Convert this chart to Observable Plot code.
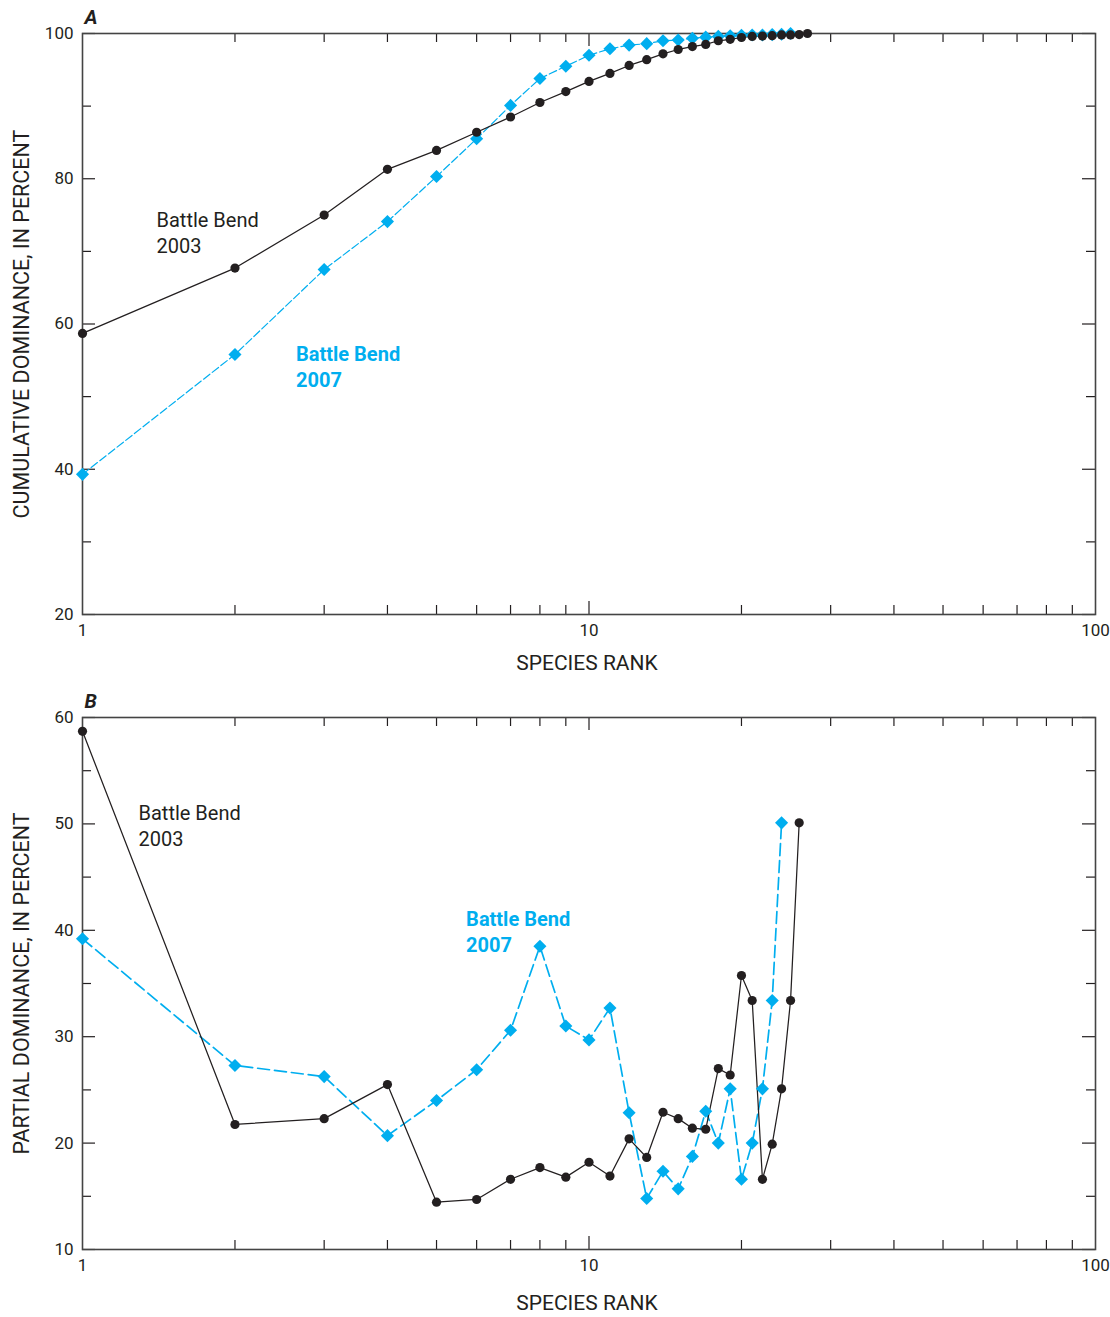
<!DOCTYPE html>
<html>
<head>
<meta charset="utf-8">
<script src="https://cdn.jsdelivr.net/npm/d3@7"></script>
<script src="https://cdn.jsdelivr.net/npm/@observablehq/plot@0.6"></script>
<style>
  html, body { margin: 0; padding: 0; background: #fff; }
  #chart { width: 1110px; height: 1317px; position: relative; }
  #chart svg { display: block; }
</style>
</head>
<body>
<div id="chart"></div>
<script>
// ---------- DATA ----------
const ranks2003 = [1,2,3,4,5,6,7,8,9,10,11,12,13,14,15,16,17,18,19,20,21,22,23,24,25,26,27];
const ranks2007 = [1,2,3,4,5,6,7,8,9,10,11,12,13,14,15,16,17,18,19,20,21,22,23,24,25];

const cumulative2003 = [58.7, 67.7, 75.0, 81.3, 83.9, 86.4, 88.5, 90.5, 92.0, 93.4, 94.5, 95.6, 96.4, 97.2, 97.8, 98.2, 98.5, 99.0, 99.2, 99.45, 99.6, 99.65, 99.7, 99.8, 99.8, 99.85, 100];
const cumulative2007 = [39.3, 55.8, 67.5, 74.1, 80.3, 85.5, 90.1, 93.8, 95.5, 97.0, 97.9, 98.4, 98.6, 99.0, 99.1, 99.35, 99.5, 99.6, 99.7, 99.75, 99.8, 99.8, 99.85, 99.9, 100];

const partial2003 = [58.7, 21.75, 22.3, 25.5, 14.45, 14.7, 16.6, 17.7, 16.8, 18.2, 16.9, 20.4, 18.65, 22.9, 22.3, 21.4, 21.3, 27.0, 26.4, 35.75, 33.4, 16.6, 19.9, 25.1, 33.4, 50.1];
const partial2007 = [39.2, 27.3, 26.25, 20.7, 24.0, 26.9, 30.6, 38.5, 31.0, 29.7, 32.7, 22.85, 14.8, 17.35, 15.7, 18.75, 23.0, 20.0, 25.1, 16.6, 20.0, 25.1, 33.4, 50.1];

const xLabelTicks = [1, 10, 100];
const xMinorTicks = [2,3,4,5,6,7,8,9,20,30,40,50,60,70,80,90];
const xMajorTicks = [10];

const yLabelsA = [20, 40, 60, 80, 100];
const yMinorA = [30, 50, 70, 90];
const yLabelsB = [10, 20, 30, 40, 50, 60];
const yMinorB = [15, 25, 35, 45, 55];

const label2003 = "Battle Bend\n2003";
const label2007 = "Battle Bend\n2007";
// annotation anchor points (species rank, percent)
const annot2003A = [{x: 1.40, y: 72.7}];
const annot2007A = [{x: 2.64, y: 54.3}];
const annot2003B = [{x: 1.29, y: 49.9}];
const annot2007B = [{x: 5.72, y: 40.0}];

// ---------- STYLE ----------
const FONT = "Roboto, 'Liberation Sans', Arial, sans-serif";
const BLACK = "#231f20";
const BLUE = "#00aeef";
const FRAME = "#444";

function toRows(ranks, vals) { return vals.map((v, i) => ({rank: ranks[i], v})); }

function panel({height, marginTop, marginBottom, yDomain, yLabels, yMinor, s2003, s2007, a2003, a2007, yLabel, letter, dash, xTitleDy}) {
  const marginLeft = 82, marginRight = 15, width = 1110;
  const innerW = width - marginLeft - marginRight;
  const innerH = height - marginTop - marginBottom;
  const minorLen = 9, majorLen = 13;
  return Plot.plot({
    width, height, marginTop, marginBottom, marginLeft, marginRight,
    style: {fontFamily: FONT, fontSize: "17px", color: BLACK, background: "white"},
    x: {type: "log", domain: [1, 100]},
    y: {domain: yDomain},
    marks: [
      // tick labels
      Plot.axisX(xLabelTicks, {anchor: "bottom", tickSize: 0, tickPadding: 9, tickFormat: d => String(d), fontSize: 17, label: null}),
      Plot.axisY(yLabels, {anchor: "left", tickSize: 0, tickPadding: 9, tickFormat: d => String(d), fontSize: 17, label: null}),
      // axis titles
      Plot.text(["SPECIES RANK"], {frameAnchor: "bottom", dy: xTitleDy, dx: -2, lineAnchor: "middle", fontSize: 21, fill: BLACK}),
      Plot.text([yLabel], {frameAnchor: "left", dx: -60, rotate: -90, textAnchor: "middle", lineAnchor: "middle", fontSize: 21.5, fill: BLACK}),
      // inward ticks: bottom/top
      Plot.tickX(xMinorTicks, {x: d => d, stroke: BLACK, strokeWidth: 1.2, insetTop: innerH - minorLen}),
      Plot.tickX(xMinorTicks, {x: d => d, stroke: BLACK, strokeWidth: 1.2, insetBottom: innerH - minorLen}),
      Plot.tickX(xMajorTicks, {x: d => d, stroke: BLACK, strokeWidth: 1.2, insetTop: innerH - majorLen}),
      Plot.tickX(xMajorTicks, {x: d => d, stroke: BLACK, strokeWidth: 1.2, insetBottom: innerH - majorLen}),
      // inward ticks: left/right
      Plot.tickY(yMinor, {y: d => d, stroke: BLACK, strokeWidth: 1.2, insetRight: innerW - minorLen}),
      Plot.tickY(yMinor, {y: d => d, stroke: BLACK, strokeWidth: 1.2, insetLeft: innerW - minorLen}),
      Plot.tickY(yLabels, {y: d => d, stroke: BLACK, strokeWidth: 1.2, insetRight: innerW - majorLen}),
      Plot.tickY(yLabels, {y: d => d, stroke: BLACK, strokeWidth: 1.2, insetLeft: innerW - majorLen}),
      Plot.frame({stroke: FRAME, strokeWidth: 1.6}),
      // series
      Plot.line(s2007, {x: "rank", y: "v", stroke: BLUE, strokeWidth: dash.w, strokeDasharray: dash.d}),
      Plot.line(s2003, {x: "rank", y: "v", stroke: BLACK, strokeWidth: 1.25}),
      Plot.dot(s2007, {x: "rank", y: "v", symbol: "diamond2", r: 5.9, fill: BLUE, stroke: "none"}),
      Plot.dot(s2003, {x: "rank", y: "v", symbol: "circle", r: 4.6, fill: BLACK, stroke: "none"}),
      // annotations
      Plot.text(a2003, {x: "x", y: "y", text: () => label2003, textAnchor: "start", lineAnchor: "middle", lineHeight: 1.3, fontSize: 20, fill: BLACK}),
      Plot.text(a2007, {x: "x", y: "y", text: () => label2007, textAnchor: "start", lineAnchor: "middle", lineHeight: 1.3, fontSize: 20, fontWeight: "bold", fill: BLUE}),
      // panel letter
      Plot.text([letter], {frameAnchor: "top-left", dx: 2, dy: -16, lineAnchor: "middle", fontSize: 20, fontWeight: "bold", fontStyle: "italic", textAnchor: "start", fill: BLACK})
    ]
  });
}

const chart = document.getElementById("chart");

chart.appendChild(panel({
  height: 685, marginTop: 33, marginBottom: 71,
  yDomain: [20, 100], yLabels: yLabelsA, yMinor: yMinorA,
  s2003: toRows(ranks2003, cumulative2003), s2007: toRows(ranks2007, cumulative2007),
  a2003: annot2003A, a2007: annot2007A,
  yLabel: "CUMULATIVE DOMINANCE, IN PERCENT", letter: "A",
  dash: {w: 1.2, d: "8,3"}, xTitleDy: 49
}));

chart.appendChild(panel({
  height: 632, marginTop: 32, marginBottom: 68,
  yDomain: [10, 60], yLabels: yLabelsB, yMinor: yMinorB,
  s2003: toRows(ranks2003, partial2003), s2007: toRows(ranks2007, partial2007),
  a2003: annot2003B, a2007: annot2007B,
  yLabel: "PARTIAL DOMINANCE, IN PERCENT", letter: "B",
  dash: {w: 1.7, d: "12,5"}, xTitleDy: 54
}));
</script>
</body>
</html>
